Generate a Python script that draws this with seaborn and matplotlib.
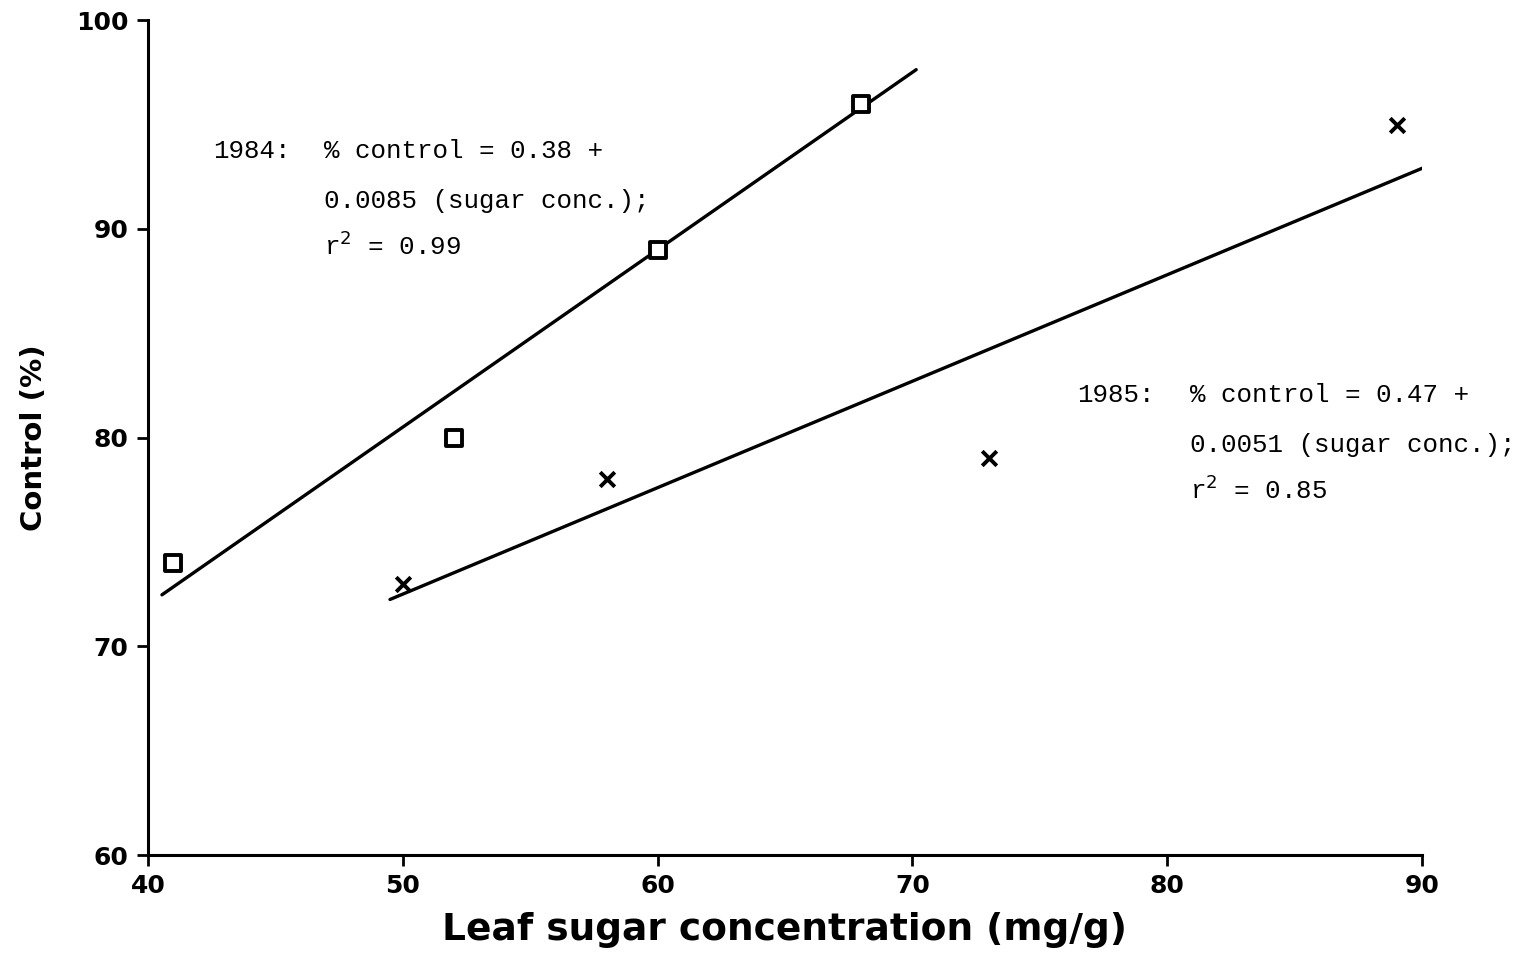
import matplotlib
matplotlib.use('Agg')
import matplotlib.pyplot as plt
import numpy as np
import pandas as pd
import seaborn as sns

sns.set_style('ticks')

# observed points
sugar_1984 = [41, 52, 60, 68]
control_1984 = [74, 80, 89, 96]
sugar_1985 = [50, 58, 73, 89]
control_1985 = [73, 78, 79, 95]

# regression equations (fraction of control) and the x span drawn
coef_1984 = (0.38, 0.0085)
coef_1985 = (0.47, 0.0051)
span_1984 = [40.55, 70.15]
span_1985 = [49.5, 90.1]

pts = pd.DataFrame({
    'sugar': sugar_1984 + sugar_1985,
    'control': control_1984 + control_1985,
    'year': ['1984'] * 4 + ['1985'] * 4,
})

def fit_line(coef, span):
    xs = np.array(span)
    return pd.DataFrame({'sugar': xs, 'control': 100 * (coef[0] + coef[1] * xs)})

line84 = fit_line(coef_1984, span_1984)
line85 = fit_line(coef_1985, span_1985)

fig = plt.figure(figsize=(15.33, 9.59), dpi=100)
ax = fig.add_axes([0.0965, 0.1084, 0.8311, 0.8706])

sns.lineplot(data=line84, x='sugar', y='control', color='black', lw=2.4, ax=ax)
sns.lineplot(data=line85, x='sugar', y='control', color='black', lw=2.4, ax=ax)

sns.scatterplot(data=pts[pts.year == '1984'], x='sugar', y='control', marker='s',
                s=120, facecolor='white', edgecolor='black', linewidth=2.8, ax=ax, zorder=5)
sns.scatterplot(data=pts[pts.year == '1985'], x='sugar', y='control', marker='x',
                s=110, color='black', linewidth=2.8, ax=ax, zorder=5)

ax.set_xlim(40, 90)
ax.set_ylim(60, 100)
ax.set_xticks([40, 50, 60, 70, 80, 90])
ax.set_yticks([60, 70, 80, 90, 100])
sns.despine(ax=ax)
for s in ['left', 'bottom']:
    ax.spines[s].set_linewidth(2.2)
    ax.spines[s].set_color('black')
ax.tick_params(axis='both', length=8, width=2, color='black', labelsize=18,
               labelcolor='black', pad=6)
for lab in ax.get_xticklabels() + ax.get_yticklabels():
    lab.set_fontweight('bold')

ax.set_xlabel('Leaf sugar concentration (mg/g)', fontsize=27, fontweight='bold',
              color='black', labelpad=10)
ax.set_ylabel('Control (%)', fontsize=21, fontweight='bold', color='black', labelpad=20)

mono = dict(family='Liberation Mono', fontsize=18.6, color='black', va='baseline')
ax.text(42.55, 93.4, '1984:', **mono)
ax.text(46.9, 93.4, '% control = 0.38 +', **mono)
ax.text(46.9, 91.0, '0.0085 (sugar conc.);', **mono)
ax.text(46.9, 88.75, r'r$^{2}$ = 0.99', **mono)
ax.text(76.45, 81.7, '1985:', **mono)
ax.text(80.9, 81.7, '% control = 0.47 +', **mono)
ax.text(80.9, 79.3, '0.0051 (sugar conc.);', **mono)
ax.text(80.9, 77.05, r'r$^{2}$ = 0.85', **mono)

fig.savefig('out.png', dpi=100)
